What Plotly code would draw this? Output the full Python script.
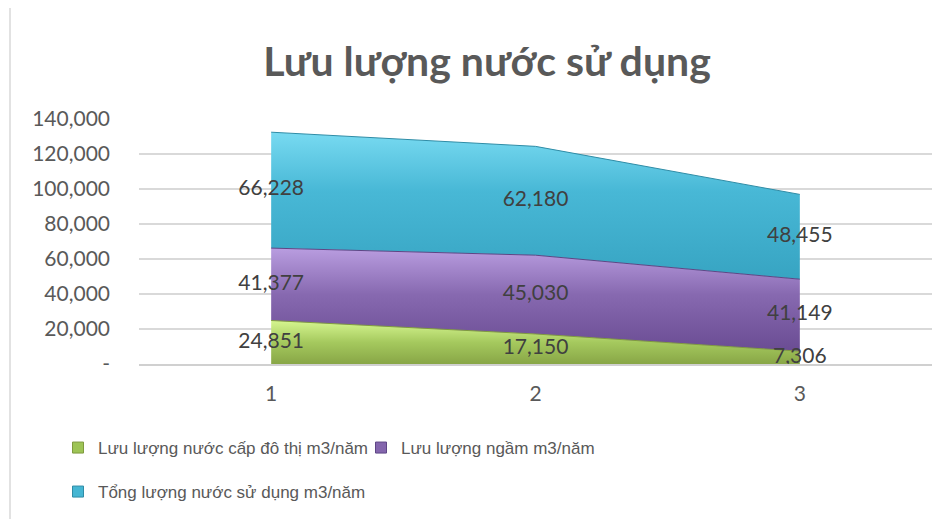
import plotly.graph_objects as go

categories = ["1", "2", "3"]
series_names = [
    "Lưu lượng nước cấp đô thị m3/năm",
    "Lưu lượng ngầm m3/năm",
    "Tổng lượng nước sử dụng m3/năm",
]
cap_do_thi = [24851, 17150, 7306]
ngam = [41377, 45030, 41149]
tong = [66228, 62180, 48455]
y_tickvals = [0, 20000, 40000, 60000, 80000, 100000, 120000, 140000]
y_ticktext = ["-", "20,000", "40,000", "60,000", "80,000", "100,000", "120,000", "140,000"]

series = [cap_do_thi, ngam, tong]
fill_scales = [
    [[0, "#88A646"], [0.5, "#A5C95E"], [1, "#D6F690"]],
    [[0, "#6A4C93"], [0.55, "#8769B0"], [1, "#B99DE0"]],
    [[0, "#37A4C2"], [0.6, "#48B8D6"], [1, "#78DAF1"]],
]
line_colors = ["#7F9A3E", "#5E4585", "#2F8CA6"]
swatch_colors = ["#9DC455", "#8466AD", "#45B6D3"]

W, H = 940, 511  # page body has an 8px margin in the 948x519 window
L, R, T, B = 131, 16, 111, 155
PW, PH = W - L - R, H - T - B

fig = go.Figure()

cum = [0, 0, 0]
label_x, label_y, label_t = [], [], []
for i, vals in enumerate(series):
    base = cum[:]
    cum = [c + v for c, v in zip(cum, vals)]
    fig.add_trace(go.Scatter(
        x=categories, y=vals, stackgroup="one", mode="lines",
        line=dict(color=line_colors[i], width=1),
        fillgradient=dict(type="vertical", colorscale=fill_scales[i]),
        showlegend=False, hoverinfo="skip", name=series_names[i],
    ))
    for j in range(3):
        label_x.append(categories[j])
        label_y.append(base[j] + vals[j] / 2)
        label_t.append(f"{vals[j]:,}")

fig.add_trace(go.Scatter(
    x=label_x, y=label_y, text=label_t, mode="text",
    textfont=dict(family="Lato", size=21, color="#404040"),
    showlegend=False, hoverinfo="skip",
))

# legend entries
for i, name in enumerate(series_names):
    fig.add_trace(go.Scatter(
        x=[None], y=[None], mode="markers", name=name,
        marker=dict(symbol="square", size=11, color=swatch_colors[i],
                    line=dict(color=line_colors[i], width=1)),
        legend="legend" if i < 2 else "legend2",
    ))

legend_font = dict(family="Liberation Sans", size=17, color="#595959")
fig.update_layout(
    width=W, height=H,
    paper_bgcolor="white", plot_bgcolor="white",
    margin=dict(l=L, r=R, t=T, b=B),
    title=dict(text="<b>Lưu lượng nước sử dụng</b>", x=479 / W, xref="container",
               y=1 - 54 / H, yref="container", xanchor="center", yanchor="middle",
               font=dict(family="Lato", size=41, color="#595959")),
    xaxis=dict(type="category", range=[-0.5, 2.5], showgrid=False,
               showline=True, linecolor="#D0D0D0", linewidth=1.5,
               ticks="", tickfont=dict(family="Lato", size=21, color="#595959"),
               ticklabelstandoff=10),
    yaxis=dict(range=[0, 140000], tickvals=y_tickvals, ticktext=y_ticktext,
               showgrid=True, gridcolor="#D9D9D9", gridwidth=1.5, zeroline=False,
               ticks="", tickfont=dict(family="Lato", size=21, color="#595959"),
               ticklabelstandoff=28),
    legend=dict(orientation="h", xref="container", yref="container",
                x=50 / W, y=1 - 440 / H, xanchor="left", yanchor="middle",
                entrywidth=258, traceorder="normal",
                font=legend_font, bgcolor="rgba(0,0,0,0)"),
    legend2=dict(orientation="h", xref="container", yref="container",
                 x=50 / W, y=1 - 484 / H, xanchor="left", yanchor="middle",
                 font=legend_font, bgcolor="rgba(0,0,0,0)"),
    shapes=[dict(type="line", xref="paper", yref="paper",
                 x0=(2 - L) / PW, x1=(2 - L) / PW, y0=-B / PH, y1=(H - B) / PH,
                 line=dict(color="#D9D9D9", width=1.5))],
)

fig.write_html("out.html")
